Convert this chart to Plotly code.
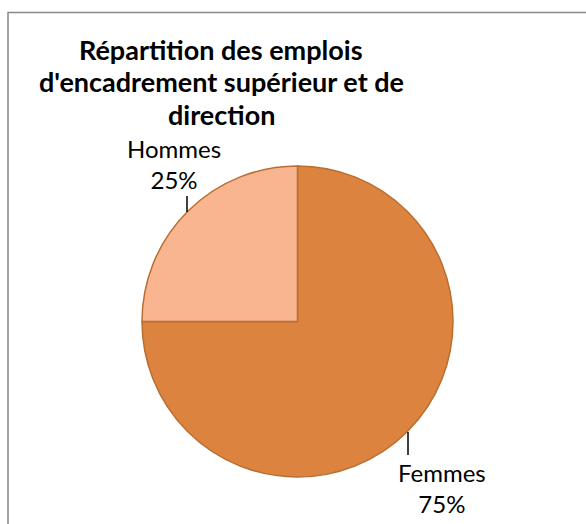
import plotly.graph_objects as go

categories = ["Femmes", "Hommes"]
values = [75, 25]
colors = ["#DC843F", "#F8B590"]
title_lines = ["Répartition des emplois", "d'encadrement supérieur et de", "direction"]

W, H = 586, 524
cx, cy, r = 297.5, 321.5, 155.5

fig = go.Figure(go.Pie(
    labels=categories,
    values=values,
    sort=False,
    direction="clockwise",
    rotation=0,
    textinfo="none",
    hoverinfo="label+percent",
    marker=dict(colors=colors, line=dict(color="#B86E30", width=1.5)),
    domain=dict(x=[(cx - r) / W, (cx + r) / W], y=[1 - (cy + r) / H, 1 - (cy - r) / H]),
    showlegend=False,
))

total = sum(values)
pct = [f"{round(v * 100 / total)}%" for v in values]

# label placements (pixel coords)
label_pos = {"Femmes": (442, 488), "Hommes": (174, 163.5)}
for cat, p in zip(categories, pct):
    x, y = label_pos[cat]
    fig.add_annotation(
        x=x / W, y=1 - y / H, xref="paper", yref="paper",
        text=f"{cat}<br>{p}", showarrow=False,
        font=dict(family="Lato, Carlito, sans-serif", size=24, color="#000000"),
        xanchor="center", yanchor="middle", align="center",
    )

# leader lines
for (x0, y0, x1, y1) in [(187, 196, 187, 212), (408, 432, 408, 455)]:
    fig.add_shape(type="line", xref="paper", yref="paper",
                  x0=x0 / W, y0=1 - y0 / H, x1=x1 / W, y1=1 - y1 / H,
                  line=dict(color="#000000", width=1.5))

# chart border (top and left visible)
fig.add_shape(type="rect", xref="paper", yref="paper",
              x0=8 / W, y0=1 - 540 / H, x1=600 / W, y1=1 - 12.5 / H,
              line=dict(color="#888888", width=1.5), fillcolor="rgba(0,0,0,0)")

title_y = [49, 82, 115]
for t, ty in zip(title_lines, title_y):
    fig.add_annotation(
        x=221 / W, y=1 - ty / H, xref="paper", yref="paper",
        text=f"<b>{t}</b>", showarrow=False,
        font=dict(family="Lato, Carlito, sans-serif", size=27, color="#000000"),
        xanchor="center", yanchor="middle", align="center",
    )

fig.update_layout(
    width=W, height=H,
    margin=dict(l=0, r=0, t=0, b=0),
    paper_bgcolor="#FFFFFF", plot_bgcolor="#FFFFFF",
)

fig.write_html("out.html", config={"displayModeBar": False},
               post_script="document.body.style.margin='0';document.body.style.padding='0';")
